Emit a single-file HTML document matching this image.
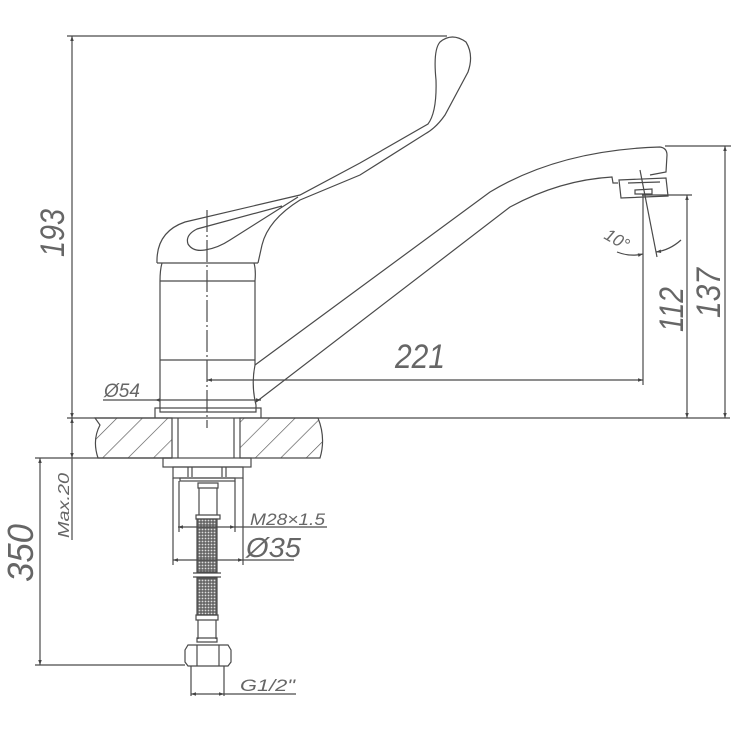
<!DOCTYPE html>
<html><head><meta charset="utf-8"><style>html,body{margin:0;padding:0;background:#fff}svg{display:block}</style></head><body>
<svg width="736" height="736" viewBox="0 0 736 736" xmlns="http://www.w3.org/2000/svg">
<defs>
<marker id="a" viewBox="0 0 10 10" refX="10" refY="5" markerWidth="12" markerHeight="5" orient="auto-start-reverse" markerUnits="userSpaceOnUse"><path d="M0,1.5 L10,5 L0,8.5z" fill="#444"/></marker>
<pattern id="h" width="18" height="18" patternUnits="userSpaceOnUse" patternTransform="rotate(45)"><line x1="0" y1="0" x2="0" y2="18" stroke="#555" stroke-width="1.3"/></pattern>
<pattern id="m" width="3" height="3" patternUnits="userSpaceOnUse"><rect width="3" height="3" fill="#666"/><circle cx="1.5" cy="1.5" r="0.9" fill="#ddd"/></pattern>
</defs>
<g fill="none" stroke="#4a4a4a" stroke-width="1.2" font-family="Liberation Sans, sans-serif">
<path d="M95,418 L172,418 L172,458 L98,458 Q92,440 100,425 Z M240,418 L318,418 Q326,438 320,458 L240,458 Z" fill="url(#h)"/>
<line x1="67" y1="418" x2="730" y2="418"/>
<line x1="178" y1="418" x2="178" y2="458"/><line x1="234" y1="418" x2="234" y2="458"/>
<path d="M157,263 L258,263"/>
<path d="M157,263 Q156,232 185,222 L300,195 L360,163 L428,124 Q437,112 436,80 Q433,50 440,42 Q452,32 466,42 Q474,55 468,72 L445,115 Q436,128 425,134 L360,175 L300,200 Q268,220 262,245 L258,263"/>
<path d="M282,206 L197,229 Q185,235 188,244 Q193,252 205,250 Q218,248 230,240 L298,197"/>
<path d="M162,263 Q160,270 160,281 L160,408 M254,263 Q256,270 255,281 L255,365 Q251,385 256,405 L256,408"/>
<line x1="160" y1="281" x2="255" y2="281"/><line x1="160" y1="360" x2="255" y2="360"/>
<path d="M155,418 L155,408 L261,408 L261,418 M160,408 L160,412 L256,412 L256,408"/>
<line x1="207" y1="210" x2="207" y2="428" stroke-dasharray="22,3,2,3"/>
<path d="M255,365 L490,192 Q560,150 660,147 Q667,148 667,155 L666,172 L650,175 M256,402 L510,207 Q560,180 612,177 L613,183 L618,183"/>
<path d="M619,180 L666,178 L668,196 L621,198 Z M628,183 L660,182 M635,190 L652,189 L652,194 L635,194 Z"/>
<path d="M640,170 L657,257"/>
<path d="M617,252 Q630,257 643,254" marker-end="url(#a)"/>
<path d="M681,240 Q670,250 656,252" marker-end="url(#a)"/>
<line x1="67" y1="36" x2="447" y2="36"/>
<line x1="72" y1="36" x2="72" y2="418" marker-start="url(#a)" marker-end="url(#a)"/>
<line x1="72" y1="418" x2="72" y2="458" marker-start="url(#a)" marker-end="url(#a)"/>
<line x1="665" y1="146" x2="731" y2="146"/>
<line x1="725" y1="146" x2="725" y2="418" marker-start="url(#a)" marker-end="url(#a)"/>
<line x1="642" y1="195" x2="692" y2="195"/>
<line x1="687" y1="195" x2="687" y2="418" marker-start="url(#a)" marker-end="url(#a)"/>
<line x1="643" y1="195" x2="643" y2="385"/>
<line x1="207" y1="380" x2="643" y2="380" marker-start="url(#a)" marker-end="url(#a)"/>
<line x1="103" y1="400" x2="155" y2="400"/>
<line x1="155" y1="400" x2="261" y2="400" marker-start="url(#a)" marker-end="url(#a)"/>
<line x1="35" y1="458" x2="172" y2="458"/>
<line x1="40" y1="458" x2="40" y2="665" marker-start="url(#a)" marker-end="url(#a)"/>
<line x1="35" y1="665" x2="185" y2="665"/>
<line x1="72" y1="458" x2="72" y2="540"/>
<rect x="163" y="458" width="88" height="9"/>
<rect x="173" y="467" width="70" height="11"/>
<line x1="188" y1="467" x2="188" y2="477"/><line x1="192" y1="467" x2="192" y2="477"/><line x1="222" y1="467" x2="222" y2="477"/><line x1="226" y1="467" x2="226" y2="477"/>
<rect x="180" y="478" width="55" height="3"/>
<line x1="173" y1="478" x2="173" y2="565"/><line x1="243" y1="478" x2="243" y2="565"/>
<line x1="179" y1="481" x2="179" y2="532"/><line x1="235" y1="481" x2="235" y2="532"/>
<path d="M198,483 h20 v5 h-20 z M199,488 v27 M217,488 v27 M196,515 h24 v4 h-24 z"/>
<rect x="197" y="519" width="20" height="53" fill="url(#m)"/>
<line x1="193" y1="573" x2="221" y2="573"/><line x1="193" y1="577" x2="221" y2="577"/>
<rect x="197" y="578" width="20" height="37" fill="url(#m)"/>
<path d="M196,615 h22 v5 h-22 z M198,620 v19 M216,620 v19 M197,638 h20 v4 h-20 z"/>
<path d="M188,645 h40 l3,5 v12 l-3,4 h-40 l-3,-4 v-12 z M197,645 v21 M219,645 v21"/>
<path d="M191,666 v30 M224,666 v30"/>
<line x1="178" y1="527" x2="235" y2="527" marker-start="url(#a)" marker-end="url(#a)"/>
<line x1="235" y1="527" x2="327" y2="527"/>
<line x1="173" y1="560" x2="243" y2="560" marker-start="url(#a)" marker-end="url(#a)"/>
<line x1="243" y1="560" x2="294" y2="560"/>
<line x1="191" y1="694" x2="224" y2="694" marker-start="url(#a)" marker-end="url(#a)"/>
<line x1="224" y1="694" x2="296" y2="694"/>
</g>
<g fill="#666" font-family="Liberation Sans, sans-serif" font-style="italic">
<text transform="translate(64,257) rotate(-90)" font-size="34" textLength="48" lengthAdjust="spacingAndGlyphs">193</text>
<text x="395" y="368" font-size="34" textLength="50" lengthAdjust="spacingAndGlyphs">221</text>
<text transform="translate(683,332) rotate(-90)" font-size="34" textLength="45" lengthAdjust="spacingAndGlyphs">112</text>
<text transform="translate(720,318) rotate(-90)" font-size="34" textLength="50" lengthAdjust="spacingAndGlyphs">137</text>
<text transform="translate(603,238) rotate(30)" font-size="17">10°</text>
<text x="104" y="397" font-size="19">Ø54</text>
<text transform="translate(69,538) rotate(-90)" font-size="16" textLength="65" lengthAdjust="spacingAndGlyphs">Max.20</text>
<text transform="translate(33,582) rotate(-90)" font-size="36" textLength="58" lengthAdjust="spacingAndGlyphs">350</text>
<text x="250" y="525" font-size="17" textLength="75" lengthAdjust="spacingAndGlyphs">M28×1.5</text>
<text x="246" y="557" font-size="28" textLength="55" lengthAdjust="spacingAndGlyphs">Ø35</text>
<text x="240" y="691" font-size="17" textLength="55" lengthAdjust="spacingAndGlyphs">G1/2"</text>
</g>
</svg>
</body></html>
